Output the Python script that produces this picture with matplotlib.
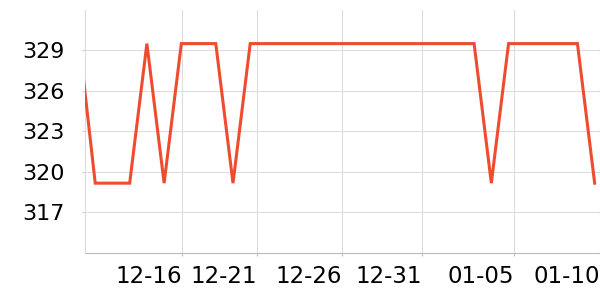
import numpy as np
import matplotlib
matplotlib.use("Agg")
import matplotlib.pyplot as plt

# values, one point per step
values = [330.5, 319.15, 319.15, 319.15, 329.5, 319.15, 329.5, 329.5, 329.5, 319.15,
          329.5, 329.5, 329.5, 329.5, 329.5, 329.5, 329.5, 329.5, 329.5, 329.5,
          329.5, 329.5, 329.5, 329.5, 319.15, 329.5, 329.5, 329.5, 329.5, 329.5,
          319.15]
tick_pos = [6.02, 10.37, 15.34, 19.99, 25.33, 30.3]
tick_labels = ["12-16", "12-21", "12-26", "12-31", "01-05", "01-10"]
y_ticks = [317, 320, 323, 326, 329]

x = np.arange(len(values))

fig = plt.figure(figsize=(6, 3), dpi=100)
ax = fig.add_axes([0.142, 0.158, 0.858, 0.809])

ax.plot(x, values, color="#ef4c2f", linewidth=2.2, solid_joinstyle="miter", zorder=3)

ax.set_xlim(0.418, 30.31)
ax.set_ylim(314, 332)
ax.set_yticks(y_ticks)
ax.set_xticks(tick_pos)
ax.set_xticklabels(tick_labels, ha="right")

ax.grid(True, color="#dddddd", linewidth=0.8)
ax.set_axisbelow(True)
for s in ["top", "right"]:
    ax.spines[s].set_visible(False)
ax.spines["left"].set_color("#dddddd")
ax.spines["bottom"].set_color("#bbbbbb")
ax.tick_params(axis="y", length=2.5, color="#cccccc", labelsize=16, pad=12)
ax.tick_params(axis="x", length=2, color="#bbbbbb", labelsize=16.5, pad=7)

fig.savefig("out.png", dpi=100)
